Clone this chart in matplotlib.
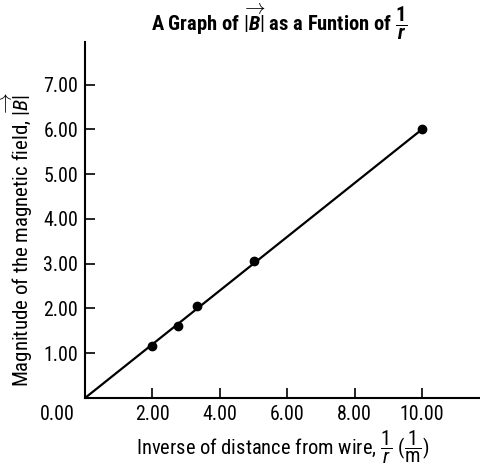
import matplotlib
matplotlib.use("Agg")
import matplotlib.pyplot as plt

# 数据
inv_r = [2.0, 2.75, 3.33, 5.0, 10.0]
b_mag = [1.17, 1.60, 2.05, 3.05, 6.00]
fit_x = [0.0, 10.0]
fit_y = [0.0, 6.0]
x_ticks = [2, 4, 6, 8, 10]
y_ticks = [1, 2, 3, 4, 5, 6, 7]

FONT = 'Roboto Condensed'
plt.rcParams['font.family'] = [FONT, 'DejaVu Sans']
plt.rcParams['mathtext.fontset'] = 'custom'
plt.rcParams['mathtext.rm'] = FONT
plt.rcParams['mathtext.it'] = FONT + ':italic'
plt.rcParams['mathtext.bf'] = FONT + ':bold'
plt.rcParams['mathtext.bfit'] = FONT + ':italic:bold'

fig = plt.figure(figsize=(4.81, 4.74), dpi=100)
ax = fig.add_axes([0.1767, 0.1603, 0.8233, 0.7511])

ax.plot(fit_x, fit_y, color='black', lw=1.6, zorder=2)
ax.plot(inv_r, b_mag, 'o', color='black', ms=6, zorder=3)

ax.set_xlim(0, 11.75)
ax.set_ylim(0, 7.95)
ax.set_xticks(x_ticks)
ax.set_xticklabels([f'{v:.2f}' for v in x_ticks])
ax.set_yticks(y_ticks)
ax.set_yticklabels([f'{v:.2f}' for v in y_ticks])
ax.tick_params(direction='in', length=7, width=1.2, labelsize=14.3, pad=5)

for s in ['top', 'right']:
    ax.spines[s].set_visible(False)
for s in ['left', 'bottom']:
    ax.spines[s].set_linewidth(1.5)

# 原点标签放在左下角（与x刻度标签同一行）
ax.annotate('0.00', xy=(-0.83, 0), xycoords=('data', 'axes fraction'),
            xytext=(0, -5), textcoords='offset points',
            ha='center', va='top', fontsize=14.3, annotation_clip=False)

ax.set_xlabel(r'Inverse of distance from wire, $\dfrac{1}{r}$ $(\dfrac{1}{\mathrm{m}})$',
              fontsize=14.8, labelpad=3)
ax.set_ylabel(r'Magnitude of the magnetic field, $|\overrightarrow{B}|$',
              fontsize=15)
ax.yaxis.set_label_coords(-0.125, 0.445)
fig.text(0.58, 0.955, r'A Graph of $|\overrightarrow{\mathbfit{B}}|$ as a Funtion of $\dfrac{\mathbf{1}}{\mathbfit{r}}$',
         ha='center', va='center', fontsize=14.8, fontweight='bold')

fig.savefig('out.png', dpi=100)
